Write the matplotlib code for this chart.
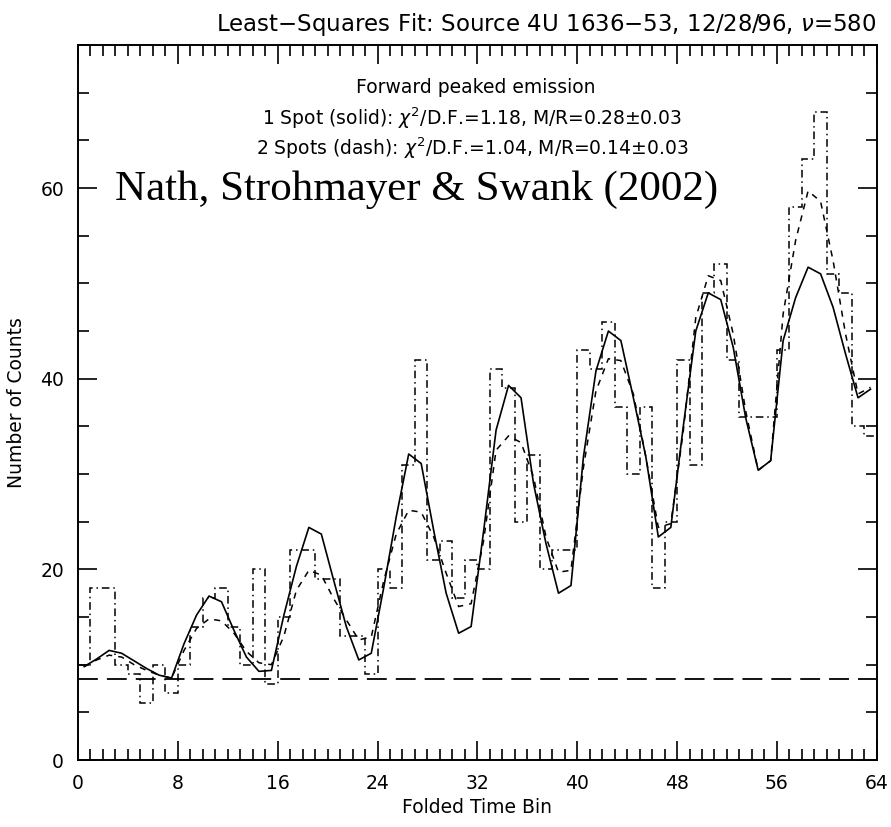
import numpy as np
import matplotlib
matplotlib.use("Agg")
import matplotlib.pyplot as plt
from matplotlib.ticker import MultipleLocator

# folded light curve: counts per bin (dash-dot histogram)
counts = [10, 18, 18, 10, 9, 6, 10, 7, 10, 14, 17, 18, 14, 10, 20, 8,
          15, 22, 22, 19, 19, 13, 13, 9, 20, 18, 31, 42, 21, 23, 17, 21,
          20, 41, 39, 25, 32, 20, 22, 22, 43, 41, 46, 37, 30, 37, 18, 25,
          42, 31, 49, 52, 42, 36, 36, 36, 43, 58, 63, 68, 51, 49, 35, 34]

# 1 spot model (solid)
fit_one = [9.8, 10.6, 11.5, 11.2, 10.4, 9.6, 8.9, 8.6, 12.2, 15.2, 17.2, 16.6, 13.6, 10.8, 9.3, 9.4,
           15.2, 20.3, 24.4, 23.7, 18.8, 14.0, 10.5, 11.2, 18.1, 25.5, 32.1, 31.1, 24.1, 17.5, 13.3, 14.0,
           24.0, 34.6, 39.3, 38.0, 29.0, 22.7, 17.5, 18.3, 31.8, 40.8, 45.0, 44.0, 38.0, 31.8, 23.4, 24.4,
           35.0, 45.0, 49.0, 48.3, 43.3, 35.9, 30.4, 31.4, 44.0, 48.5, 51.7, 51.0, 47.5, 42.6, 38.0, 38.9]

# 2 spots model (dash)
fit_two = [9.8, 10.5, 11.0, 10.8, 10.0, 9.4, 8.9, 8.6, 11.5, 13.8, 14.8, 14.6, 13.3, 11.4, 10.2, 10.0,
           13.0, 17.8, 19.9, 19.4, 16.9, 14.7, 12.6, 12.9, 18.8, 23.7, 26.2, 26.0, 23.4, 19.6, 16.1, 16.4,
           23.0, 32.5, 34.0, 33.3, 29.7, 23.4, 19.7, 19.9, 30.7, 38.7, 42.1, 41.9, 38.4, 31.8, 24.4, 24.8,
           34.5, 46.4, 50.8, 50.3, 44.7, 36.6, 30.4, 31.4, 46.8, 54.5, 59.7, 58.6, 52.4, 44.7, 38.4, 39.1]

background = 8.5

edges = np.arange(len(counts) + 1)
centers = np.arange(len(counts)) + 0.5

fig = plt.figure(figsize=(8.91, 8.27), dpi=100)
ax = fig.add_axes([0.0875, 0.081, 0.8965, 0.8645])

ax.stairs(counts, edges, baseline=None, color="black", linewidth=1.1,
          linestyle=(0, (5, 2.5, 1, 2.5)))
ax.plot(centers, fit_one, color="black", linewidth=1.2)
ax.plot(centers, fit_two, color="black", linewidth=1.1, linestyle=(0, (4, 4)))
ax.axhline(background, color="black", linewidth=1.3, linestyle=(0, (11, 5)))

ax.set_xlim(0, 64)
ax.set_ylim(0, 75)
ax.xaxis.set_major_locator(MultipleLocator(8))
ax.xaxis.set_minor_locator(MultipleLocator(1))
ax.yaxis.set_major_locator(MultipleLocator(20))
ax.yaxis.set_minor_locator(MultipleLocator(5))
ax.tick_params(which="both", direction="in", top=True, right=True, width=1.2)
ax.tick_params(which="major", length=14, labelsize=13.5, pad=10)
ax.tick_params(which="minor", length=8)
for s in ax.spines.values():
    s.set_linewidth(1.4)

ax.set_title(r"Least$-$Squares Fit: Source 4U 1636$-$53, 12/28/96, $\nu$=580",
             fontsize=16.5, loc="right", pad=10)
ax.set_xlabel("Folded Time Bin", fontsize=13.5, labelpad=4)
ax.set_ylabel("Number of Counts", fontsize=13.5, labelpad=10)

ax.text(0.498, 0.941, "Forward peaked emission", transform=ax.transAxes,
        ha="center", va="center", fontsize=13.5)
ax.text(0.493, 0.898, r"1 Spot (solid): $\chi^2$/D.F.=1.18, M/R=0.28$\pm$0.03",
        transform=ax.transAxes, ha="center", va="center", fontsize=13.5)
ax.text(0.493, 0.856, r"2 Spots (dash): $\chi^2$/D.F.=1.04, M/R=0.14$\pm$0.03",
        transform=ax.transAxes, ha="center", va="center", fontsize=13.5)

ax.text(0.424, 0.797, "Nath, Strohmayer & Swank (2002)", transform=ax.transAxes,
        ha="center", va="center", fontsize=31, family="Liberation Serif")

fig.savefig("out.png", dpi=100)
